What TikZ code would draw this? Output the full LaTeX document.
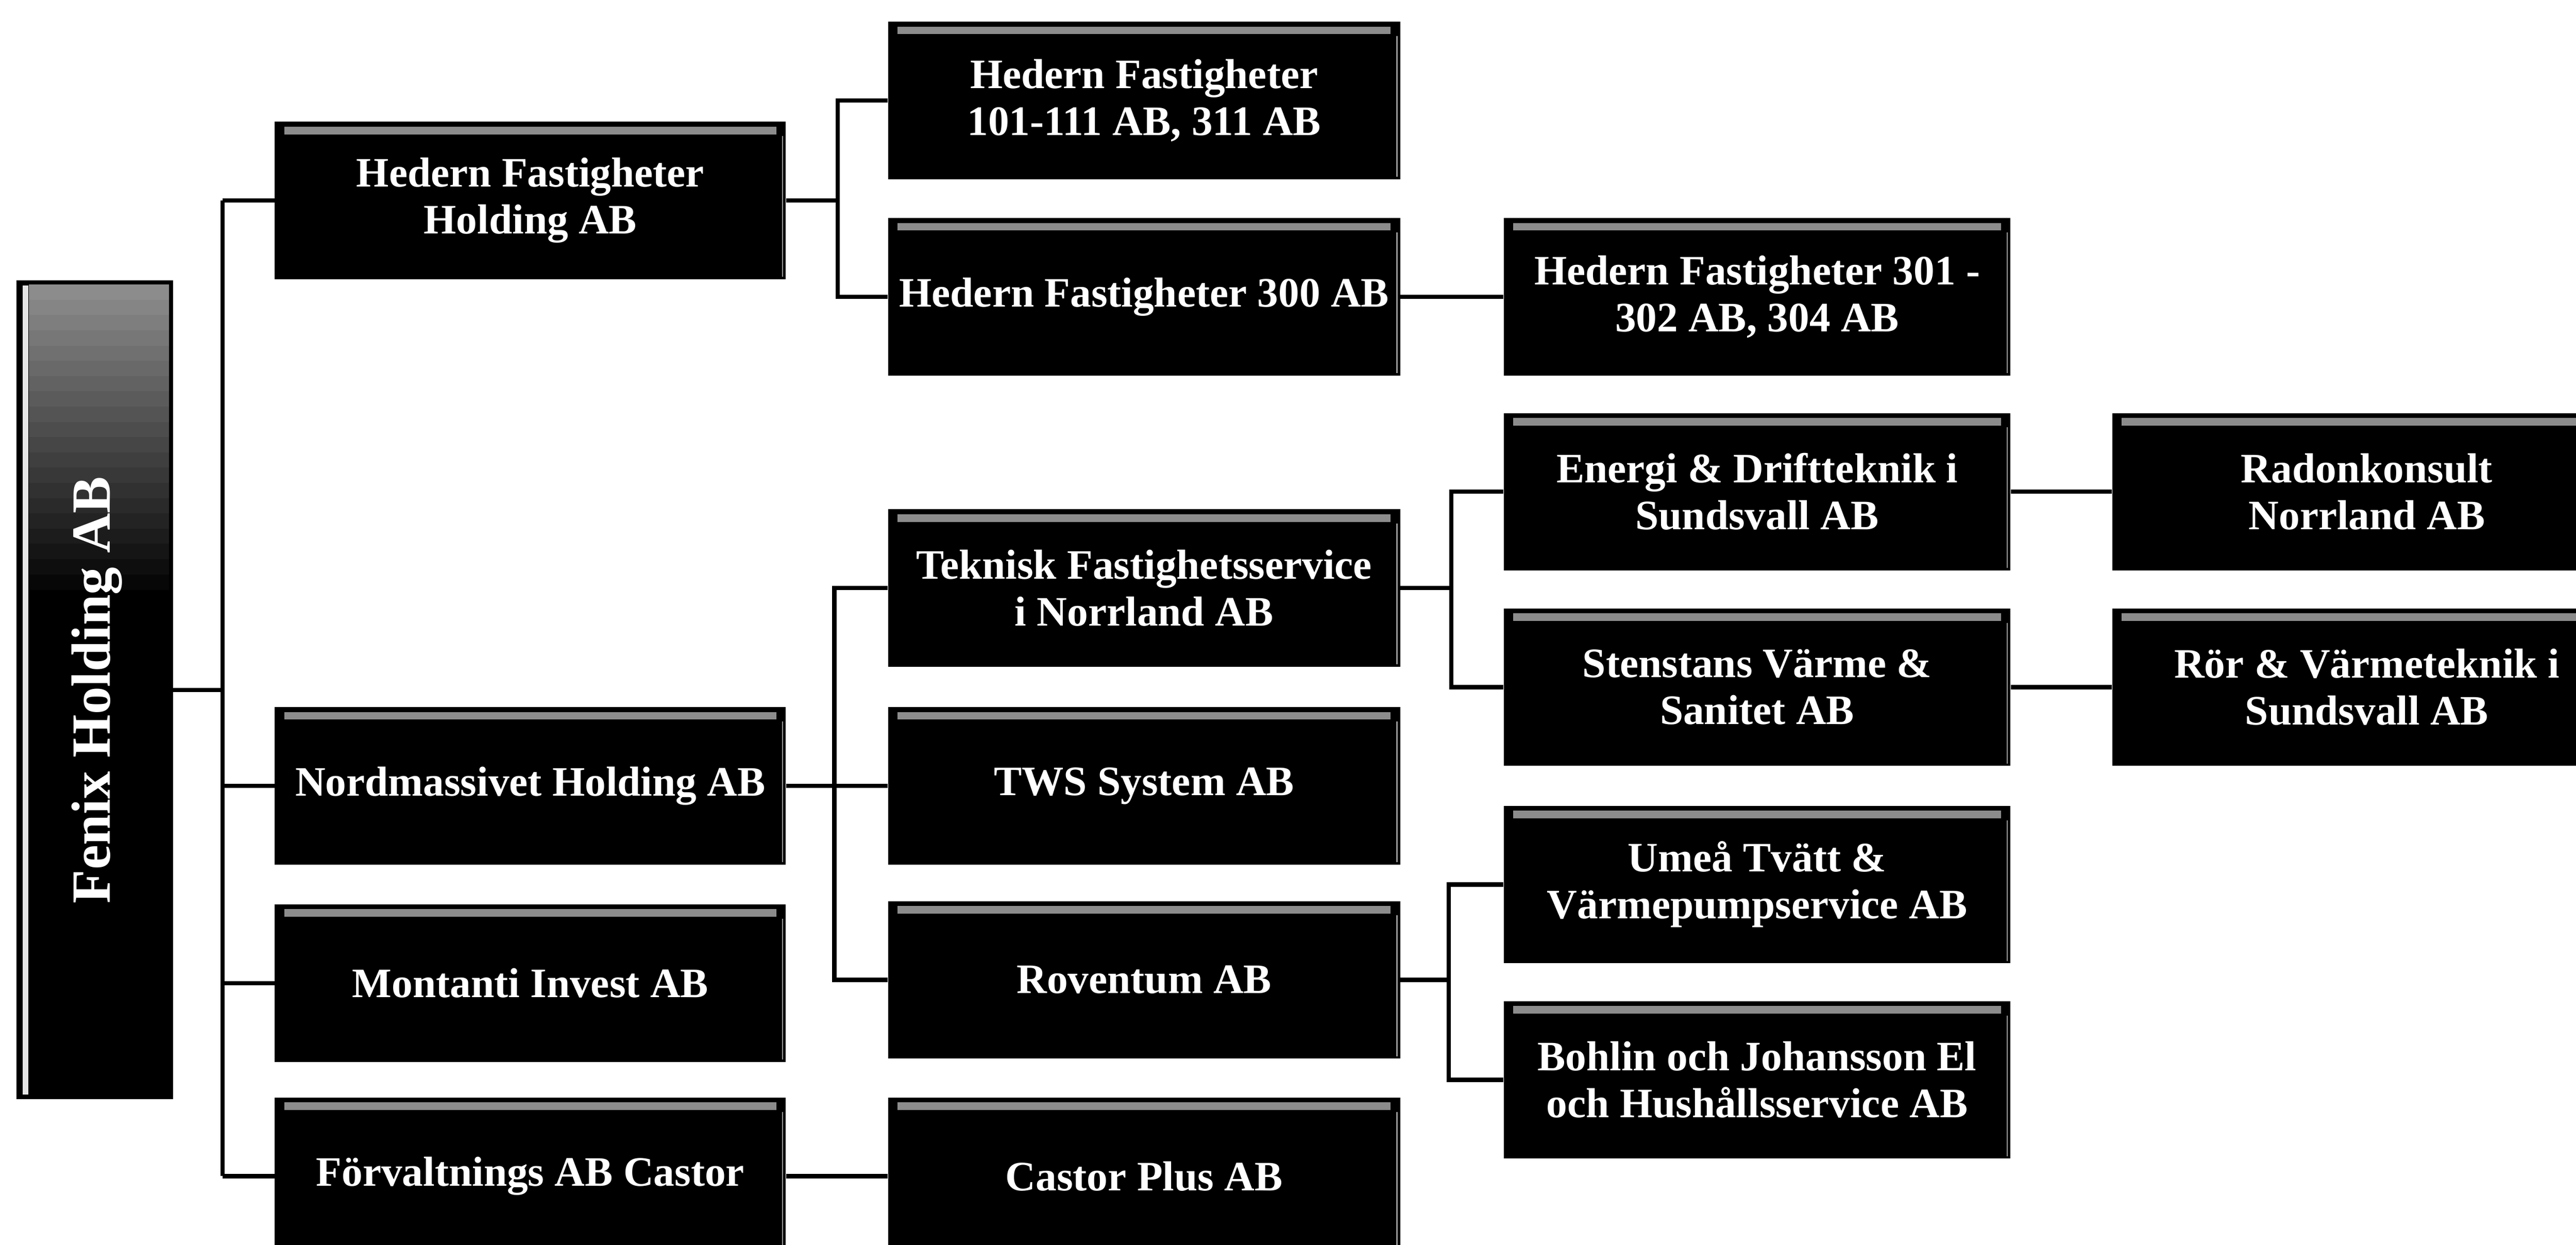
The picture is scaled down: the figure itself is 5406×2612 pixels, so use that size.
\documentclass[tikz,border=0pt]{standalone}
\usepackage{fontspec}
\setmainfont{Liberation Serif}
\begin{document}
\begin{tikzpicture}[x=0.01cm,y=-0.01cm,
  box/.style={fill=black,text=white,font=\bfseries\fontsize{25}{28}\selectfont,
    align=center,inner sep=0pt,anchor=north west,minimum height=3.3cm,
    path picture={
      \fill[black!45] ([xshift=0.2cm,yshift=-0.1cm]path picture bounding box.north west)
        rectangle ([xshift=-0.2cm,yshift=-0.26cm]path picture bounding box.north east);
      \draw[black!40,line width=0.03cm] ([xshift=-0.07cm,yshift=-0.3cm]path picture bounding box.north east)
        -- ([xshift=-0.07cm,yshift=0.05cm]path picture bounding box.south east);
    }},
  colA/.style={box,minimum width=10.72cm},
  colB/.style={box,minimum width=10.74cm},
  colC/.style={box,minimum width=10.63cm},
  colD/.style={box,minimum width=10.68cm},
  rootbox/.style={fill=black,inner sep=0pt,anchor=north west,
    minimum width=3.28cm,minimum height=17.17cm,
    path picture={
      \fill[black!10] ([xshift=0.13cm,yshift=-0.1cm]path picture bounding box.north west)
        rectangle ([xshift=0.25cm,yshift=0.1cm]path picture bounding box.south west);
    }},
  rootlabel/.style={text=white,font=\bfseries\fontsize{33}{36}\selectfont,rotate=90,inner sep=0pt},
  link/.style={line width=0.09cm}
]
\useasboundingbox (0,0) rectangle (5406,2612);

% root
\node[rootbox] (fenix) at (34,588) {};
\foreach \i in {0,...,19}{
  \pgfmathsetmacro\shadeval{45+55*\i/20}
  \fill[black!\shadeval] (61,{597+\i*32}) rectangle (355,{597+\i*32+33});
}
\node[rootlabel] (fenixlabel) at ([xshift=0.05cm]fenix.center) {Fenix Holding AB};

% column 1
\node[colA] (hhold) at (576,255) {Hedern Fastigheter\\Holding AB};
\node[colA] (nord) at (576,1483) {Nordmassivet Holding AB};
\node[colA] (mont) at (576,1897) {Montanti Invest AB};
\node[colA] (forv) at (576,2302) {Förvaltnings AB Castor};

% column 2
\node[colB] (h101) at (1863,45) {Hedern Fastigheter\\101-111 AB, 311 AB};
\node[colB] (h300) at (1863,457) {Hedern Fastigheter 300 AB};
\node[colB] (tek) at (1863,1068) {Teknisk Fastighetsservice\\i Norrland AB};
\node[colB] (tws) at (1863,1483) {TWS System AB};
\node[colB] (rov) at (1863,1890) {Roventum AB};
\node[colB] (cplus) at (1863,2302) {Castor Plus AB};

% column 3
\node[colC] (h301) at (3155,457) {Hedern Fastigheter 301 -\\302 AB, 304 AB};
\node[colC] (energi) at (3155,866) {Energi \& Driftteknik i\\Sundsvall AB};
\node[colC] (sten) at (3155,1276) {Stenstans Värme \&\\Sanitet AB};
\node[colC] (umea) at (3155,1690) {Umeå Tvätt \&\\Värmepumpservice AB};
\node[colC] (bohlin) at (3155,2100) {Bohlin och Johansson El\\och Hushållsservice AB};

% column 4
\node[colD] (radon) at (4432,866) {Radonkonsult\\Norrland AB};
\node[colD] (ror) at (4432,1276) {Rör \& Värmeteknik i\\Sundsvall AB};

% bus coordinates
\coordinate (t) at (467,0);
\coordinate (b2) at (1758,0);
\coordinate (b3) at (1751,0);
\coordinate (b4) at (3046,0);
\coordinate (b5) at (3040,0);

% root trunk
\draw[link] (fenix.east) -- (fenix.east -| t);
\draw[link] (hhold.west -| t) -- (forv.west -| t);
\foreach \n in {hhold,nord,mont,forv}
  \draw[link] (\n.west) -- (\n.west -| t);

% Hedern holding
\draw[link] (hhold.east) -- (hhold.east -| b2);
\draw[link] (h101.west) -- (h101.west -| b2) -- (h300.west -| b2) -- (h300.west);
\draw[link] (h300.east) -- (h301.west);

% Nordmassivet
\draw[link] (nord.east) -- (tws.west);
\draw[link] (tek.west) -- (tek.west -| b3) -- (rov.west -| b3) -- (rov.west);

% Teknisk
\draw[link] (tek.east) -- (tek.east -| b4);
\draw[link] (energi.west) -- (energi.west -| b4) -- (sten.west -| b4) -- (sten.west);
\draw[link] (energi.east) -- (radon.west);
\draw[link] (sten.east) -- (ror.west);

% Roventum
\draw[link] (rov.east) -- (rov.east -| b5);
\draw[link] (umea.west) -- (umea.west -| b5) -- (bohlin.west -| b5) -- (bohlin.west);

% Castor
\draw[link] (forv.east) -- (cplus.west);
\end{tikzpicture}
\end{document}
